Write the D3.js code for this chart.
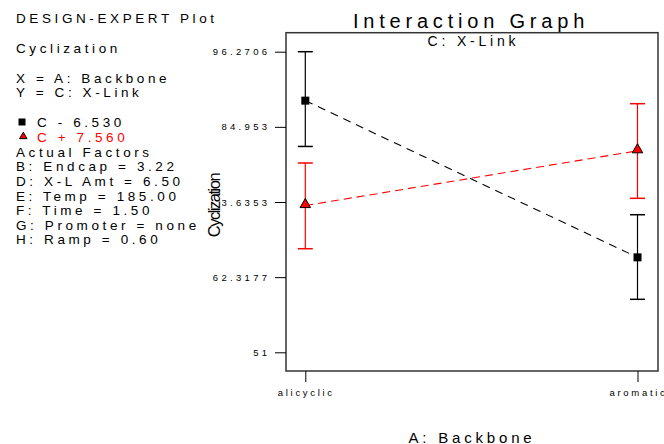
<!DOCTYPE html>
<html><head><meta charset="utf-8">
<script src="https://cdn.jsdelivr.net/npm/d3@7"></script>
<style>
html,body{margin:0;padding:0;background:#fff;}
svg{display:block;font-family:"Liberation Sans",Arial,sans-serif;}
</style></head>
<body>
<script>
// ---- data ----
const categories = ["alicyclic", "aromatic"];
const seriesNames = ["C- 6.530", "C+ 7.560"];
const legendLabels = ["C - 6.530", "C + 7.560"];
const meansLow = [88.9, 65.3];      // C- 6.530
const lowLow   = [82.0, 58.98];
const highLow  = [96.2706, 71.72];
const meansHigh = [73.1, 81.35];    // C+ 7.560
const lowHigh   = [66.6, 74.19];
const highHigh  = [79.51, 88.44];
const yTicks = [51, 62.3177, 73.6353, 84.953, 96.2706];
const yTickLabels = ["51", "62.3177", "73.6353", "84.953", "96.2706"];
const infoLines = ["B: Endcap = 3.22", "D: X-L Amt = 6.50", "E: Temp = 185.00", "F: Time = 1.50", "G: Promoter = none", "H: Ramp = 0.60"];

const W = 664, H = 444;
const svg = d3.select("body").append("svg").attr("width", W).attr("height", H);

const frame = {x0: 286, x1: 658, y0: 32.7, y1: 371};
const y = d3.scaleLinear().domain([51, 96.2706]).range([352.3, 51.7]);
const x = d3.scalePoint().domain(categories).range([305.3, 637.5]);

// frame
svg.append("rect").attr("x", frame.x0).attr("y", frame.y0)
  .attr("width", frame.x1 - frame.x0).attr("height", frame.y1 - frame.y0)
  .attr("fill", "none").attr("stroke", "#333").attr("stroke-width", 1.5);

// y axis
const yAxis = d3.axisLeft(y).tickValues(yTicks).tickSize(11).tickPadding(8)
  .tickFormat((d, i) => yTickLabels[i]);
const gy = svg.append("g").attr("transform", `translate(${frame.x0},0)`).call(yAxis);
gy.select(".domain").remove();
gy.selectAll("line").attr("stroke", "#000");
gy.selectAll("text").attr("font-size", 9.5).attr("fill", "#000")
  .attr("font-family", "Liberation Sans, Arial, sans-serif")
  .style("letter-spacing", "3.3px").attr("dx", 3.3);

// x axis
const xAxis = d3.axisBottom(x).tickSize(11).tickPadding(7);
const gx = svg.append("g").attr("transform", `translate(0,${frame.y1})`).call(xAxis);
gx.select(".domain").remove();
gx.selectAll("line").attr("stroke", "#000");
gx.selectAll("text").attr("font-size", 9.5).attr("fill", "#000")
  .attr("font-family", "Liberation Sans, Arial, sans-serif")
  .style("letter-spacing", "2.7px").attr("dx", 0.5);

// y label with white background
const ylab = svg.append("g").attr("transform", "translate(219.5,205.5) rotate(-90)");
ylab.append("rect").attr("x", -34).attr("y", -14).attr("width", 68).attr("height", 16).attr("fill", "#fff");
ylab.append("text").attr("text-anchor", "middle").attr("font-size", 16.5)
  .style("letter-spacing", "-1.5px").attr("fill", "#000").text("Cyclization");

// titles
svg.append("text").attr("x", 471).attr("y", 28).attr("text-anchor", "middle")
  .attr("font-size", 20).style("letter-spacing", "4.8px").text("Interaction Graph");
svg.append("text").attr("x", 473.5).attr("y", 46).attr("text-anchor", "middle")
  .attr("font-size", 14).style("letter-spacing", "3.8px").text("C: X-Link");
svg.append("text").attr("x", 472).attr("y", 442.5).attr("text-anchor", "middle")
  .attr("font-size", 15).style("letter-spacing", "3.8px").text("A: Backbone");

// series
const series = [
  {name: seriesNames[0], mean: meansLow, lo: lowLow, hi: highLow, color: "#000", sym: "square"},
  {name: seriesNames[1], mean: meansHigh, lo: lowHigh, hi: highHigh, color: "#ff0000", sym: "triangle"}
];
const capW = 15;
series.forEach(s => {
  const pts = categories.map((c, i) => ({c, m: s.mean[i], lo: s.lo[i], hi: s.hi[i]}));
  const g = svg.append("g");
  pts.forEach(p => {
    const cx = x(p.c);
    g.append("line").attr("x1", cx).attr("x2", cx).attr("y1", y(p.hi)).attr("y2", y(p.lo))
      .attr("stroke", s.color).attr("stroke-width", 1.2);
    [p.hi, p.lo].forEach(v => {
      g.append("line").attr("x1", cx - capW / 2).attr("x2", cx + capW / 2)
        .attr("y1", y(v)).attr("y2", y(v)).attr("stroke", s.color).attr("stroke-width", 1.5);
    });
  });
  g.append("path").datum(pts)
    .attr("d", d3.line().x(p => x(p.c)).y(p => y(p.m)))
    .attr("fill", "none").attr("stroke", s.color).attr("stroke-width", 1.1)
    .attr("stroke-dasharray", s.sym === "square" ? "8,6" : "8,5");
  pts.forEach(p => {
    if (s.sym === "square") {
      g.append("rect").attr("x", x(p.c) - 4).attr("y", y(p.m) - 4).attr("width", 8).attr("height", 8).attr("fill", "#000");
    } else {
      g.append("path").attr("d", d3.symbol(d3.symbolTriangle, 48)())
        .attr("transform", `translate(${x(p.c)},${y(p.m) - 1})`)
        .attr("fill", "#ff0000").attr("stroke", "#000").attr("stroke-width", 1);
    }
  });
});

// left info block
const info = svg.append("g").attr("font-size", 13.5).attr("fill", "#000").style("letter-spacing", "3.6px");
info.append("text").attr("x", 16).attr("y", 23.3).text("DESIGN-EXPERT Plot");
info.append("text").attr("x", 16).attr("y", 52.5).text("Cyclization");
info.append("text").attr("x", 16).attr("y", 82.7).text("X = A: Backbone");
info.append("text").attr("x", 16).attr("y", 96.7).text("Y = C: X-Link");
// legend
svg.append("rect").attr("x", 18.5).attr("y", 118.5).attr("width", 7).attr("height", 7).attr("fill", "#000");
info.append("text").attr("x", 37).attr("y", 126.7).text(legendLabels[0]);
svg.append("path").attr("d", d3.symbol(d3.symbolTriangle, 24)())
  .attr("transform", "translate(23.3,136.5)").attr("fill", "#ff0000").attr("stroke", "#000").attr("stroke-width", 1);
info.append("text").attr("x", 37).attr("y", 141.7).attr("fill", "#ff0000").text(legendLabels[1]);
info.append("text").attr("x", 16).attr("y", 156.7).text("Actual Factors");
infoLines.forEach((t, i) => {
  info.append("text").attr("x", 16).attr("y", 171.3 + i * 14.6).text(t);
});
</script>
</body></html>
